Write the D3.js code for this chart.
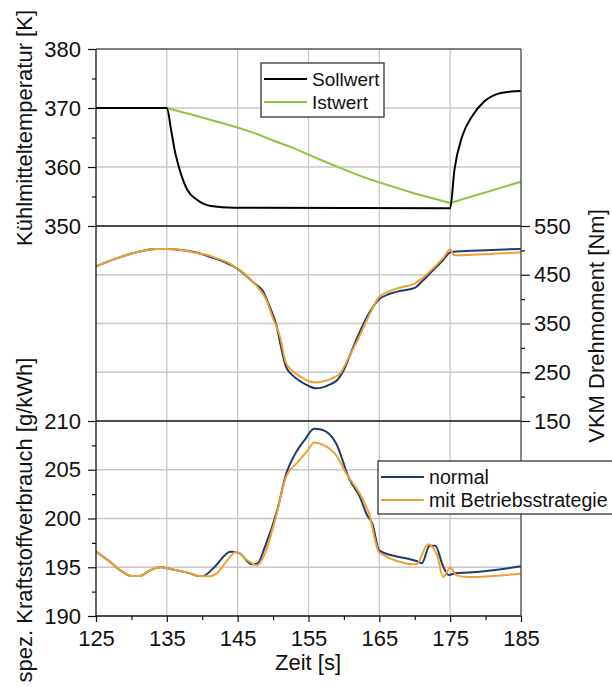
<!DOCTYPE html>
<html>
<head>
<meta charset="utf-8">
<script src="https://cdn.jsdelivr.net/npm/d3@7"></script>
<style>
body { margin: 0; background: #fff; }
svg { display: block; font-family: "Liberation Sans", Arial, sans-serif; }
</style>
</head>
<body>
<div id="chart"></div>
<script>
// Kühlmitteltemperatur [K]
var sollwert = [[125,370],[135,370],[135.6,366.3],[136.1,362.9],[136.9,359.2],[137.9,356.1],[139.3,354.4],
  [141.2,353.4],[144.5,353.1],[175,353],[175.6,359.5],[176.7,365.2],[178.1,368.6],[179.8,371.1],
  [181.7,372.4],[183.6,372.8],[185,372.9]];
var istwert = [[125,370],[135,370],[140,368.4],[145,366.7],[147.5,365.7],[150,364.5],[152.5,363.4],
  [155,362.1],[157.5,360.8],[160,359.6],[162.5,358.4],[165,357.4],[170,355.5],[175,353.9],[185,357.5]];

// VKM Drehmoment [Nm]
var momentNormal = [[125,467],[128,484],[131,497],[133.5,503],[135,503],[137,501],[139,496],[141,487],
  [143,477],[145,462],[147.5,431],[148.5,418],[149.5,385],[150.5,345],[151,310],[151.8,262],[152.8,243],
  [154,230],[155,222],[156,217],[157,219],[158.2,226],[159,233],[160,255],[161,290],[162,325],[163.5,370],
  [165,400],[166.5,411],[168,417],[170,423],[171,436],[172.5,458],[174,480],[174.9,495],[175.5,497],
  [178,499],[181,501],[185,503]];
var momentStrategie = [[125,467],[128,484],[131,497],[133.5,503],[135,503],[137,501],[139,495],[140.6,491],
  [142,484],[144,472],[146,452],[147.6,428],[149,400],[150,360],[151,322],[151.8,270],[152.8,252],
  [154,240],[155,232],[156,229],[157,231],[158.4,238],[159.5,248],[160.5,275],[162,318],[163.5,365],
  [165,405],[166.5,417],[168,424],[170,432],[171,442],[172.5,462],[174,484],[175,502],[175.6,490],
  [178,491],[181,493],[185,496]];

// spez. Kraftstoffverbrauch [g/kWh]
var verbrauchNormal = [[125,196.6],[126.9,195.6],[128.6,194.6],[130,194.1],[131.1,194.1],[132.7,194.7],
  [134.1,195],[135.7,194.8],[137.9,194.45],[139.6,194.1],[140.1,194.1],[141.5,194.85],[144,196.6],
  [145.1,196.5],[147,195.3],[147.8,195.4],[148.9,197.2],[150.6,200.9],[151.9,204.7],[153.1,206.6],
  [154.5,208.1],[155.8,209.2],[156.9,209.1],[158.9,207.7],[160.8,204],[162.2,202.3],[163.3,200.3],
  [164,199.5],[165,196.7],[170.7,195.5],[171,195.4],[172.1,197.2],[172.9,197.2],[174,195.1],
  [174.8,194.2],[175.9,194.4],[177.6,194.45],[185,195.1]];
var verbrauchStrategie = [[125,196.6],[126.9,195.6],[128.6,194.6],[130,194.1],[131.1,194.1],[132.7,194.7],
  [134.1,195],[135.7,194.8],[137.9,194.45],[139.6,194.1],[140.9,194.07],[142.1,194.4],[143.4,195.6],
  [144.8,196.6],[146.2,195.8],[147.8,195.2],[148.9,196.5],[150.3,199.9],[151.9,204.4],[153.4,205.7],
  [155,207.1],[155.8,207.8],[156.9,207.6],[158.9,206.5],[160.5,204.4],[162.2,202.6],[163.5,200.6],
  [165,196.5],[170.2,195.3],[171.9,197.35],[173.2,196.15],[174,194],[175,194.96],[175.9,194.17],
  [177.6,194],[185,194.34]];

var xTicks = [125,135,145,155,165,175,185];
var xMinor = [130,140,150,160,170,180];
var tempTicks = [350,360,370,380], tempMinor = [355,365,375];
var momTicks = [150,250,350,450,550], momMinor = [200,300,400,500];
var fuelTicks = [190,195,200,205,210], fuelMinor = [192.5,197.5,202.5,207.5];

var width = 612, height = 687;
var left = 96, right = 521;

var svg = d3.select("#chart").append("svg")
  .attr("width", width).attr("height", height);

var x = d3.scaleLinear().domain([125,185]).range([left,right]);
var yTemp = d3.scaleLinear().domain([350,380]).range([226,49]);
var yMom = d3.scaleLinear().domain([150,550]).range([421,226]);
var yFuel = d3.scaleLinear().domain([190,210]).range([616,421]);

var grid = "#c8c8c8";

// vertical grid
svg.selectAll(".vgrid").data(xTicks.slice(1, -1)).enter().append("line")
  .attr("x1", d => x(d)).attr("x2", d => x(d))
  .attr("y1", 49).attr("y2", 616)
  .attr("stroke", grid).attr("stroke-width", 1.3);

// horizontal grid
function hgrid(scale, vals) {
  svg.append("g").selectAll("line").data(vals).enter().append("line")
    .attr("x1", left).attr("x2", right)
    .attr("y1", d => scale(d)).attr("y2", d => scale(d))
    .attr("stroke", grid).attr("stroke-width", 1.3);
}
hgrid(yTemp, [360,370]);
hgrid(yMom, [250,350,450]);
hgrid(yFuel, [195,200,205]);

function drawLine(data, scale, color, curve) {
  var line = d3.line().x(d => x(d[0])).y(d => scale(d[1])).curve(curve || d3.curveMonotoneX);
  svg.append("path").datum(data)
    .attr("d", line).attr("fill", "none")
    .attr("stroke", color).attr("stroke-width", 2)
    .attr("stroke-linejoin", "round");
}
var cSoll = "#000000", cIst = "#8cc63e", cNormal = "#1f3a6e", cStrat = "#f0a030";

drawLine(istwert, yTemp, cIst, d3.curveLinear);
drawLine(sollwert, yTemp, cSoll);
drawLine(momentNormal, yMom, cNormal);
drawLine(momentStrategie, yMom, cStrat);
drawLine(verbrauchNormal, yFuel, cNormal);
drawLine(verbrauchStrategie, yFuel, cStrat);

// frame
svg.append("line").attr("x1", left).attr("x2", right).attr("y1", 49).attr("y2", 49)
  .attr("stroke", "#555").attr("stroke-width", 1.3);
svg.append("line").attr("x1", left).attr("x2", right).attr("y1", 226).attr("y2", 226)
  .attr("stroke", "#111").attr("stroke-width", 1.3);
svg.append("line").attr("x1", left).attr("x2", right).attr("y1", 421).attr("y2", 421)
  .attr("stroke", "#111").attr("stroke-width", 1.3);
svg.append("line").attr("x1", left).attr("x2", right).attr("y1", 616).attr("y2", 616)
  .attr("stroke", "#111").attr("stroke-width", 1.3);
svg.append("line").attr("x1", left).attr("x2", left).attr("y1", 49).attr("y2", 616)
  .attr("stroke", "#111").attr("stroke-width", 1.3);
svg.append("line").attr("x1", right).attr("x2", right).attr("y1", 49).attr("y2", 616)
  .attr("stroke", "#444").attr("stroke-width", 1.3);

function styleAxis(g) {
  g.select(".domain").remove();
  g.selectAll("line").attr("stroke", "#111").attr("stroke-width", 1.2);
  g.selectAll("text").attr("font-size", 22).attr("fill", "#111")
    .attr("font-family", "'Liberation Sans', Arial, sans-serif");
}

function leftAxis(scale, ticks, minor) {
  svg.append("g").attr("transform", "translate(" + left + ",0)")
    .call(d3.axisLeft(scale).tickValues(ticks).tickSize(8).tickPadding(7))
    .call(styleAxis);
  svg.append("g").attr("transform", "translate(" + left + ",0)")
    .call(d3.axisLeft(scale).tickValues(minor).tickSize(4).tickFormat(""))
    .call(styleAxis);
}
leftAxis(yTemp, tempTicks, tempMinor);
leftAxis(yFuel, fuelTicks, fuelMinor);

svg.append("g").attr("transform", "translate(" + right + ",0)")
  .call(d3.axisRight(yMom).tickValues(momTicks).tickSize(9).tickPadding(4))
  .call(styleAxis);
svg.append("g").attr("transform", "translate(" + right + ",0)")
  .call(d3.axisRight(yMom).tickValues(momMinor).tickSize(4).tickFormat(""))
  .call(styleAxis);

svg.append("g").attr("transform", "translate(0,616)")
  .call(d3.axisBottom(x).tickValues(xTicks).tickSize(6).tickPadding(8))
  .call(styleAxis);
svg.append("g").attr("transform", "translate(0,616)")
  .call(d3.axisBottom(x).tickValues(xMinor).tickSize(4).tickFormat(""))
  .call(styleAxis);

// axis titles
svg.append("text").attr("x", 308).attr("y", 670).attr("text-anchor", "middle")
  .attr("font-size", 22).attr("fill", "#111").text("Zeit [s]");
svg.append("text").attr("transform", "translate(32,128) rotate(-90)").attr("text-anchor", "middle")
  .attr("font-size", 22).attr("fill", "#111").text("Kühlmitteltemperatur [K]");
svg.append("text").attr("transform", "translate(32,520) rotate(-90)").attr("text-anchor", "middle")
  .attr("font-size", 22).attr("fill", "#111").text("spez. Kraftstoffverbrauch [g/kWh]");
svg.append("text").attr("transform", "translate(604,326) rotate(-90)").attr("text-anchor", "middle")
  .attr("font-size", 22).attr("fill", "#111").text("VKM Drehmoment [Nm]");

// legends
function legend(x0, y0, w, h, items, fs) {
  var g = svg.append("g");
  g.append("rect").attr("x", x0).attr("y", y0).attr("width", w).attr("height", h)
    .attr("fill", "#fff").attr("stroke", "#333").attr("stroke-width", 1.3);
  items.forEach(function(it, i) {
    var yy = y0 + 16 + i * 23;
    g.append("line").attr("x1", x0 + 3).attr("x2", x0 + 46).attr("y1", yy).attr("y2", yy)
      .attr("stroke", it[1]).attr("stroke-width", 2.2);
    g.append("text").attr("x", x0 + 51).attr("y", yy + 7)
      .attr("font-size", fs).attr("fill", "#111").text(it[0]);
  });
}
legend(261, 63, 123, 54, [["Sollwert", cSoll], ["Istwert", cIst]], 19);
legend(378, 461, 250, 53, [["normal", cNormal], ["mit Betriebsstrategie", cStrat]], 19.6);
</script>
</body>
</html>
